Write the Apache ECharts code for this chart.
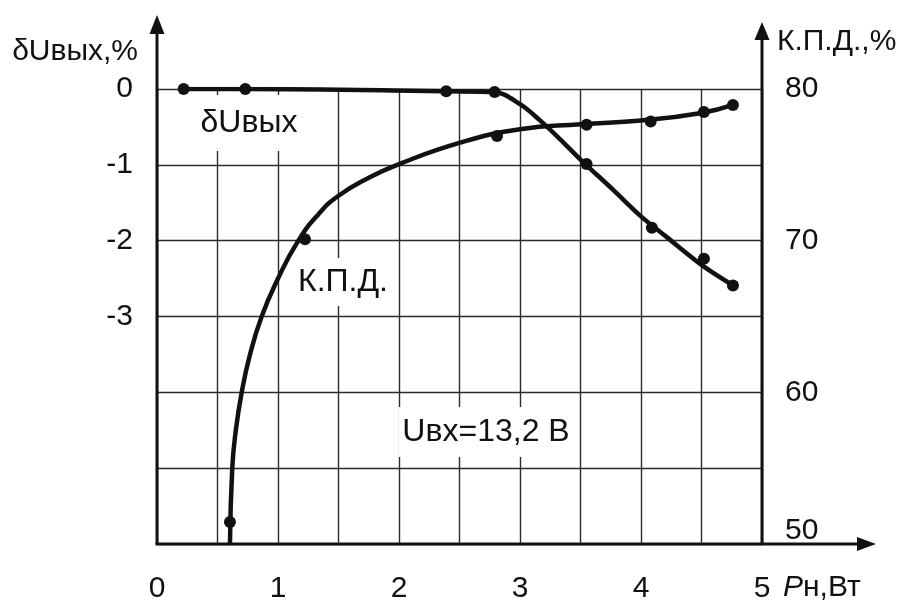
<!DOCTYPE html>
<html>
<head>
<meta charset="utf-8">
<title>δUвых, К.П.Д.</title>
<script src="https://cdn.jsdelivr.net/npm/echarts@6.0.0/dist/echarts.min.js"></script>
<style>
    html, body { margin: 0; padding: 0; background: #fff; }
    .chart { width: 906px; height: 600px; }
</style>
</head>
<body>
<div class="chart"></div>
<script>
// tick labels
var xTicks = [0, 1, 2, 3, 4, 5];
var duTicks = [0, -1, -2, -3];
var kpdTicks = [50, 60, 70, 80];

// δUвых: measured points and the drawn curve
var duPointsX = [0.22, 0.73, 2.39, 2.79, 3.55, 4.09, 4.52, 4.76];
var duPointsY = [0, 0, -0.03, -0.04, -0.99, -1.83, -2.24, -2.59];
var duCurveX = [0.22, 0.73, 2.39, 2.79, 3.0, 3.17, 3.33, 3.5, 3.77, 4.0, 4.21, 4.5, 4.76];
var duCurveY = [0, 0, -0.03, -0.04, -0.2, -0.42, -0.66, -0.93, -1.33, -1.68, -1.95, -2.32, -2.59];

// К.П.Д.: measured points and the drawn curve
var kpdPointsX = [0.603, 1.223, 2.81, 3.55, 4.08, 4.52, 4.76];
var kpdPointsY = [51.45, 70.1, 76.9, 77.65, 77.85, 78.48, 78.95];
var kpdCurveX = [0.603, 0.622, 0.65, 0.70, 0.769, 0.865, 0.994, 1.168, 1.333, 1.5, 1.75, 2.0, 2.5, 3.0, 3.5, 4.0, 4.5, 4.76];
var kpdCurveY = [50, 55, 57.4, 60, 62.5, 65, 67.4, 70, 71.73, 72.96, 74.15, 75.05, 76.45, 77.35, 77.68, 77.92, 78.42, 78.95];

function pairs(xs, ys) {
    return xs.map(function (x, i) { return [x, ys[i]]; });
}

var FONT = "'Liberation Sans', Arial, sans-serif";
var INK = '#111';
var AX_FONT = 30;   // axis numbers and names
var IN_FONT = 32;   // labels inside the plot

// plot area
var L = 157, R = 762, T = 89, B = 544;

var chart = echarts.init(document.querySelector('.chart'));

var option = {
    backgroundColor: '#fff',
    animation: false,
    textStyle: { fontFamily: FONT, color: INK },
    grid: {
        left: L, top: T, width: R - L, height: B - T,
        // keep the plot box fixed, do not shrink it to fit labels
        outerBoundsMode: 'none',
        containLabel: false
    },
    xAxis: {
        type: 'value',
        min: 0,
        max: 5,
        interval: 0.5,
        axisLine: { show: false },
        axisTick: { show: false },
        axisLabel: {
            margin: 30,
            fontSize: AX_FONT,
            color: INK,
            fontFamily: FONT,
            formatter: function (v) { return xTicks.indexOf(v) >= 0 ? String(v) : ''; }
        },
        splitLine: { show: true, lineStyle: { color: '#2b2b2b', width: 1.4 } }
    },
    yAxis: [
        {
            type: 'value',
            min: -6,
            max: 0,
            interval: 1,
            axisLine: { show: false },
            axisTick: { show: false },
            axisLabel: {
                margin: 24,
                fontSize: AX_FONT,
                color: INK,
                fontFamily: FONT,
                formatter: function (v) { return duTicks.indexOf(v) >= 0 ? String(v) : ''; }
            },
            splitLine: { show: true, lineStyle: { color: '#2b2b2b', width: 1.4 } }
        },
        {
            type: 'value',
            position: 'right',
            min: 50,
            max: 80,
            interval: 10,
            axisLine: { show: false },
            axisTick: { show: false },
            axisLabel: {
                margin: 23,
                fontSize: AX_FONT,
                color: INK,
                fontFamily: FONT,
                formatter: function (v) {
                    if (kpdTicks.indexOf(v) < 0) return '';
                    // lowest label sits above the x axis
                    return v === kpdTicks[0] ? '{lo|' + v + '}' : String(v);
                },
                rich: {
                    lo: { fontSize: AX_FONT, fontFamily: FONT, color: INK, padding: [0, 0, 26, 0] }
                }
            },
            splitLine: { show: false }
        }
    ],
    series: [
        {
            name: 'δUвых',
            type: 'line',
            yAxisIndex: 0,
            smooth: 0.35,
            symbol: 'none',
            lineStyle: { color: INK, width: 4.5 },
            data: pairs(duCurveX, duCurveY),
            z: 3
        },
        {
            name: 'δUвых точки',
            type: 'scatter',
            yAxisIndex: 0,
            symbolSize: 12,
            itemStyle: { color: INK, opacity: 1 },
            data: pairs(duPointsX, duPointsY),
            z: 4
        },
        {
            name: 'К.П.Д.',
            type: 'line',
            yAxisIndex: 1,
            smooth: 0.5,
            symbol: 'none',
            lineStyle: { color: INK, width: 4.5 },
            data: pairs(kpdCurveX, kpdCurveY),
            z: 3
        },
        {
            name: 'К.П.Д. точки',
            type: 'scatter',
            yAxisIndex: 1,
            symbolSize: 12,
            itemStyle: { color: INK, opacity: 1 },
            data: pairs(kpdPointsX, kpdPointsY),
            z: 4
        }
    ],
    graphic: [
        // axes with arrows
        { type: 'line', z: 20, shape: { x1: L, y1: B, x2: L, y2: 30 }, style: { stroke: INK, lineWidth: 3 } },
        { type: 'polygon', z: 20, shape: { points: [[L, 15], [L - 7.5, 34], [L + 7.5, 34]] }, style: { fill: INK } },
        { type: 'line', z: 20, shape: { x1: R, y1: B, x2: R, y2: 37 }, style: { stroke: INK, lineWidth: 3 } },
        { type: 'polygon', z: 20, shape: { points: [[R, 22], [R - 7.5, 40], [R + 7.5, 40]] }, style: { fill: INK } },
        { type: 'line', z: 20, shape: { x1: L - 1.5, y1: B, x2: 860, y2: B }, style: { stroke: INK, lineWidth: 3 } },
        { type: 'polygon', z: 20, shape: { points: [[876, B], [857, B - 7], [857, B + 7]] }, style: { fill: INK } },

        // axis names
        { type: 'text', z: 20, x: 138, y: 52, style: { text: 'δUвых,%', font: AX_FONT + 'px ' + FONT, fill: INK, align: 'right', verticalAlign: 'middle' } },
        { type: 'text', z: 20, x: 777, y: 42, style: { text: 'К.П.Д.,%', font: AX_FONT + 'px ' + FONT, fill: INK, align: 'left', verticalAlign: 'middle' } },
        {
            type: 'text', z: 20, x: 783, y: 588,
            style: {
                text: '{i|P}н,Вт', fill: INK, align: 'left', verticalAlign: 'middle',
                font: AX_FONT + 'px ' + FONT,
                rich: { i: { fontStyle: 'italic', fontSize: AX_FONT, fontFamily: FONT, fill: INK } }
            }
        },

        // labels inside the plot, white boxes break the grid
        { type: 'text', z: 10, x: 249, y: 123, style: { text: 'δUвых', font: IN_FONT + 'px ' + FONT, fill: INK, align: 'center', verticalAlign: 'middle', backgroundColor: '#fff', padding: [12, 4] } },
        { type: 'text', z: 10, x: 343, y: 282, style: { text: 'К.П.Д.', font: IN_FONT + 'px ' + FONT, fill: INK, align: 'center', verticalAlign: 'middle', backgroundColor: '#fff', padding: [8, 4] } },
        { type: 'text', z: 10, x: 486, y: 432, style: { text: 'Uвх=13,2 В', font: IN_FONT + 'px ' + FONT, fill: INK, align: 'center', verticalAlign: 'middle', backgroundColor: '#fff', padding: [9, 4] } }
    ]
};

chart.setOption(option);
</script>
</body>
</html>
